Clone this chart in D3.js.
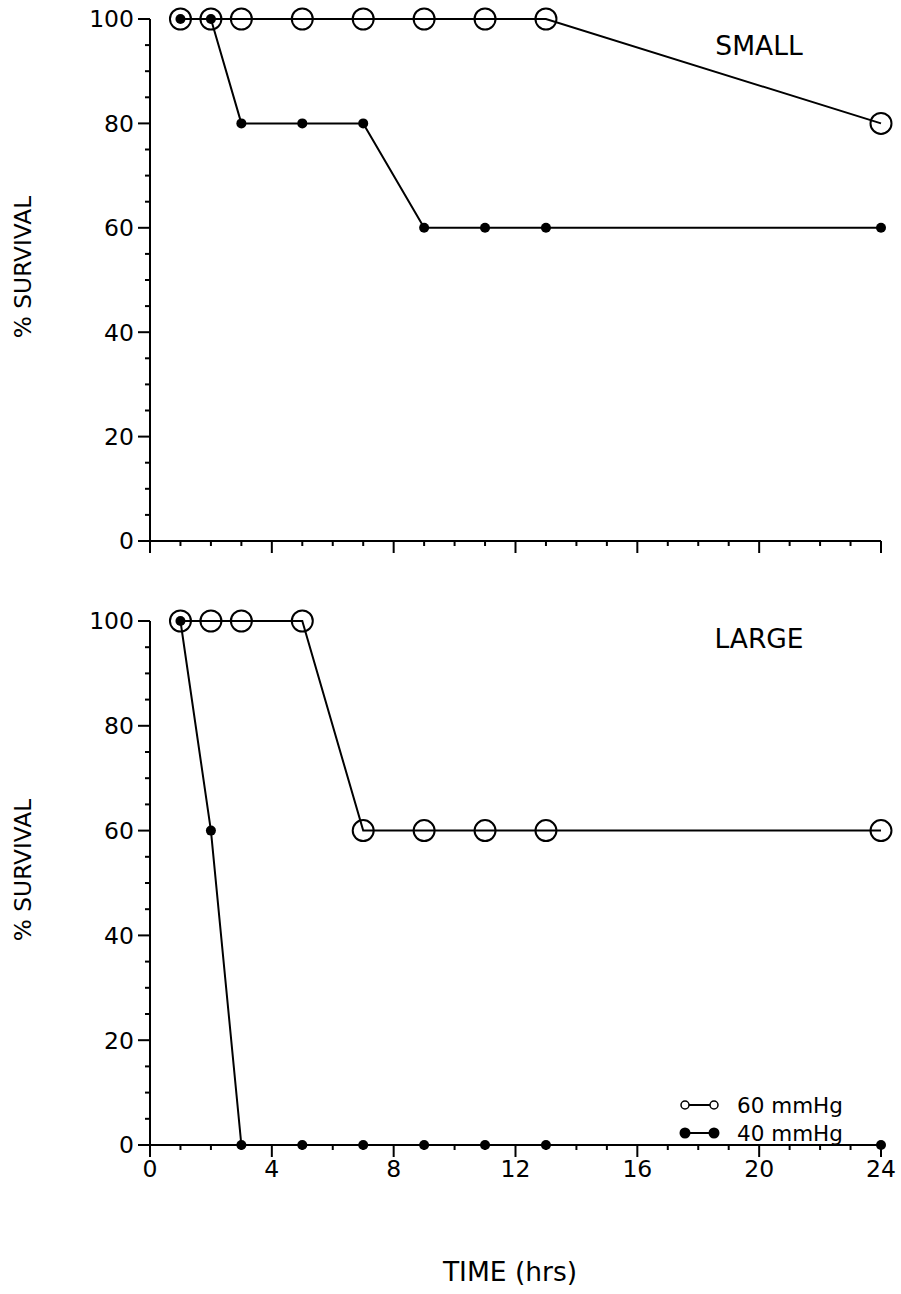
<!DOCTYPE html>
<html><head><meta charset="utf-8">
<script src="https://cdn.jsdelivr.net/npm/d3@7"></script>
<style>body{margin:0;background:#fff}svg{display:block}text{font-family:"DejaVu Sans",Verdana,sans-serif;fill:#000}</style>
</head><body>
<script>
const times = [1, 2, 3, 5, 7, 9, 11, 13, 24];
const small60 = [100, 100, 100, 100, 100, 100, 100, 100, 80];
const small40 = [100, 100, 80, 80, 80, 60, 60, 60, 60];
const large60 = [100, 100, 100, 100, 60, 60, 60, 60, 60];
const large40 = [100, 60, 0, 0, 0, 0, 0, 0, 0];
const xTickLabels = [0, 4, 8, 12, 16, 20, 24];
const yTickLabels = [0, 20, 40, 60, 80, 100];
const panelNames = ["SMALL", "LARGE"];
const legendLabels = ["60 mmHg", "40 mmHg"];

const W = 901, H = 1294;
const svg = d3.select("body").append("svg").attr("width", W).attr("height", H);
const x = d3.scaleLinear().domain([0, 24]).range([150, 881]);

const panels = [
  {name: panelNames[0], s60: small60, s40: small40, top: 19, bottom: 541, labels: false, nameY: 55, titleY: 267},
  {name: panelNames[1], s60: large60, s40: large40, top: 621, bottom: 1145, labels: true, nameY: 648, titleY: 870}
];

panels.forEach((p, i) => {
  const y = d3.scaleLinear().domain([0, 100]).range([p.bottom, p.top]);
  const g = svg.append("g");
  // y axis
  g.append("line").attr("x1", x(0)).attr("x2", x(0)).attr("y1", y(0)).attr("y2", y(100))
    .attr("stroke", "#000").attr("stroke-width", 2);
  d3.range(0, 101, 5).forEach(v => {
    const major = v % 20 === 0;
    g.append("line").attr("x1", x(0) - (major ? 12 : 5)).attr("x2", x(0))
      .attr("y1", y(v)).attr("y2", y(v)).attr("stroke", "#000").attr("stroke-width", 2);
  });
  yTickLabels.forEach(v => {
    g.append("text").attr("x", 134).attr("y", y(v)).attr("dy", "0.36em")
      .attr("text-anchor", "end").attr("font-size", 23.5).text(v);
  });
  // x axis
  g.append("line").attr("x1", x(0) - 12).attr("x2", x(24)).attr("y1", y(0)).attr("y2", y(0))
    .attr("stroke", "#000").attr("stroke-width", 2);
  d3.range(0, 25, 1).forEach(t => {
    const major = t % 4 === 0;
    g.append("line").attr("x1", x(t)).attr("x2", x(t))
      .attr("y1", y(0)).attr("y2", y(0) + (major ? 12 : 5))
      .attr("stroke", "#000").attr("stroke-width", 2);
  });
  if (p.labels) {
    xTickLabels.forEach(t => {
      g.append("text").attr("x", x(t)).attr("y", y(0) + 32).attr("text-anchor", "middle")
        .attr("font-size", 23.5).text(t);
    });
  }
  // y title
  g.append("text").attr("transform", `translate(31,${p.titleY}) rotate(-90)`)
    .attr("text-anchor", "middle").attr("font-size", 23.3).text("% SURVIVAL");
  // panel name
  g.append("text").attr("x", 759).attr("y", p.nameY)
    .attr("text-anchor", "middle").attr("font-size", 26.5).text(p.name);

  const line = d3.line().x(d => x(d[0])).y(d => y(d[1]));
  const d60 = times.map((t, k) => [t, p.s60[k]]);
  const d40 = times.map((t, k) => [t, p.s40[k]]);
  g.append("path").attr("d", line(d60)).attr("fill", "none").attr("stroke", "#000").attr("stroke-width", 2);
  g.append("path").attr("d", line(d40)).attr("fill", "none").attr("stroke", "#000").attr("stroke-width", 2);
  g.selectAll(".o").data(d60).enter().append("circle")
    .attr("cx", d => x(d[0])).attr("cy", d => y(d[1])).attr("r", 10.5)
    .attr("fill", "none").attr("stroke", "#000").attr("stroke-width", 2);
  g.selectAll(".f").data(d40).enter().append("circle")
    .attr("cx", d => x(d[0])).attr("cy", d => y(d[1])).attr("r", 5)
    .attr("fill", "#000");

  if (p.labels) {
    const lx1 = 685, lx2 = 714;
    [1105, 1133].forEach((ly, k) => {
      g.append("line").attr("x1", lx1).attr("x2", lx2).attr("y1", ly).attr("y2", ly)
        .attr("stroke", "#000").attr("stroke-width", 2);
      [lx1, lx2].forEach(cx => {
        g.append("circle").attr("cx", cx).attr("cy", ly).attr("r", k === 0 ? 4 : 5.5)
          .attr("fill", k === 0 ? "#fff" : "#000").attr("stroke", "#000").attr("stroke-width", k === 0 ? 1.5 : 0);
      });
      g.append("text").attr("x", 737).attr("y", ly).attr("dy", "0.36em")
        .attr("font-size", 21.5).text(legendLabels[k]);
    });
  }
});

svg.append("text").attr("x", 510).attr("y", 1281).attr("text-anchor", "middle")
  .attr("font-size", 26.5).text("TIME (hrs)");
</script>
</body></html>
